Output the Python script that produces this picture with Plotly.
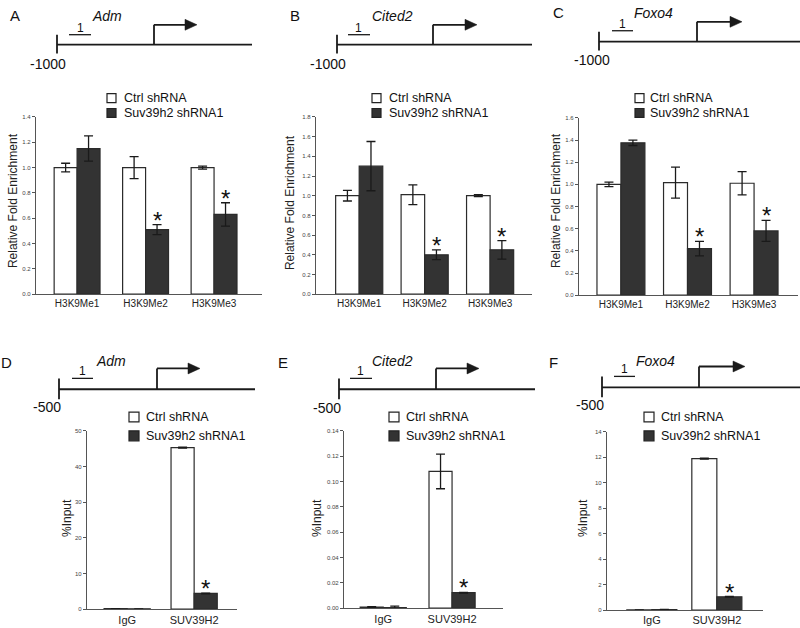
import plotly.graph_objects as go

W, H = 800, 628

# ---------------- data ----------------
histone_marks = ["H3K9Me1", "H3K9Me2", "H3K9Me3"]
chip_targets = ["IgG", "SUV39H2"]
series_names = ["Ctrl shRNA", "Suv39h2 shRNA1"]

# A  Adm  H3K9 methylation (relative fold enrichment)
adm_h3_ctrl = [1.00, 1.00, 1.00]
adm_h3_ctrl_err = [0.034, 0.087, 0.012]
adm_h3_kd = [1.15, 0.51, 0.63]
adm_h3_kd_err = [0.10, 0.04, 0.092]
adm_h3_star = [False, True, True]

# B  Cited2
cited2_h3_ctrl = [1.00, 1.01, 1.00]
cited2_h3_ctrl_err = [0.054, 0.10, 0.01]
cited2_h3_kd = [1.30, 0.40, 0.45]
cited2_h3_kd_err = [0.25, 0.05, 0.093]
cited2_h3_star = [False, True, True]

# C  Foxo4
foxo4_h3_ctrl = [1.00, 1.015, 1.01]
foxo4_h3_ctrl_err = [0.02, 0.14, 0.105]
foxo4_h3_kd = [1.375, 0.42, 0.58]
foxo4_h3_kd_err = [0.024, 0.066, 0.095]
foxo4_h3_star = [False, True, True]

# D  Adm  SUV39H2 ChIP (%Input)
adm_chip_ctrl = [0.15, 45.3]
adm_chip_ctrl_err = [0.0, 0.1]
adm_chip_kd = [0.1, 4.4]
adm_chip_kd_err = [0.0, 0.1]
adm_chip_star = [False, True]

# E  Cited2
cited2_chip_ctrl = [0.0008, 0.108]
cited2_chip_ctrl_err = [0.0003, 0.0137]
cited2_chip_kd = [0.0005, 0.0122]
cited2_chip_kd_err = [0.0011, 0.0003]
cited2_chip_star = [False, True]

# F  Foxo4
foxo4_chip_ctrl = [0.02, 11.9]
foxo4_chip_ctrl_err = [0.0, 0.03]
foxo4_chip_kd = [0.05, 1.05]
foxo4_chip_kd_err = [0.0, 0.02]
foxo4_chip_star = [False, True]

# ---------------- layout geometry (pixels) ----------------
FONT = "Liberation Sans, Arial, sans-serif"
CTRL_FILL, KD_FILL = "white", "#333333"
EDGE = "#2b2b2b"
AXIS = "#555555"

panels = [
    dict(cats=histone_marks, ctrl=adm_h3_ctrl, ce=adm_h3_ctrl_err, kd=adm_h3_kd, ke=adm_h3_kd_err,
         star=adm_h3_star, x0=36, x1=262, top=115, base=294, xr=[-0.6, 2.7], ymax=1.4, dtick=0.2,
         fmt=".1f", gap=0.33, ytitle="Relative Fold Enrichment", tp=(13, 200), tfs=10),
    dict(cats=histone_marks, ctrl=cited2_h3_ctrl, ce=cited2_h3_ctrl_err, kd=cited2_h3_kd, ke=cited2_h3_kd_err,
         star=cited2_h3_star, x0=316, x1=532, top=115, base=294, xr=[-0.66, 2.64], ymax=1.8, dtick=0.2,
         fmt=".1f", gap=0.28, ytitle="Relative Fold Enrichment", tp=(290, 202), tfs=10),
    dict(cats=histone_marks, ctrl=foxo4_h3_ctrl, ce=foxo4_h3_ctrl_err, kd=foxo4_h3_kd, ke=foxo4_h3_kd_err,
         star=foxo4_h3_star, x0=579, x1=798, top=116, base=295, xr=[-0.63, 2.66], ymax=1.6, dtick=0.2,
         fmt=".1f", gap=0.28, ytitle="Relative Fold Enrichment", tp=(556, 200), tfs=10),
    dict(cats=chip_targets, ctrl=adm_chip_ctrl, ce=adm_chip_ctrl_err, kd=adm_chip_kd, ke=adm_chip_kd_err,
         star=adm_chip_star, x0=87, x1=237, top=432, base=612, xr=[-0.6, 1.64], ymax=50, dtick=10,
         fmt="d", gap=0.31, ytitle="%Input", tp=(67, 520), tfs=11),
    dict(cats=chip_targets, ctrl=cited2_chip_ctrl, ce=cited2_chip_ctrl_err, kd=cited2_chip_kd,
         ke=cited2_chip_kd_err, star=cited2_chip_star, x0=344, x1=503, top=432, base=611,
         xr=[-0.57, 1.74], ymax=0.14, dtick=0.02, fmt=".2f", gap=0.33, ytitle="%Input", tp=(317, 520), tfs=11),
    dict(cats=chip_targets, ctrl=foxo4_chip_ctrl, ce=foxo4_chip_ctrl_err, kd=foxo4_chip_kd,
         ke=foxo4_chip_kd_err, star=foxo4_chip_star, x0=607, x1=763, top=433, base=613,
         xr=[-0.69, 1.71], ymax=14, dtick=2, fmt="d", gap=0.23, ytitle="%Input", tp=(583, 520), tfs=11),
]

diagrams = [
    dict(letter="A", lp=(15, 13), gene="Adm", gp=(107, 13), ly=42, lx=(57, 252), tick=(32, 51),
         ax=154, atop=22, tip=197, seg=(69, 91, 32), one=(80, 25), start="-1000", sp=(48, 62)),
    dict(letter="B", lp=(295, 13), gene="Cited2", gp=(392, 13), ly=42, lx=(337, 532), tick=(32, 51),
         ax=433, atop=22, tip=477, seg=(348, 370, 32), one=(358, 25), start="-1000", sp=(328, 62)),
    dict(letter="C", lp=(558, 10), gene="Foxo4", gp=(653, 10), ly=39, lx=(599, 800), tick=(29, 48),
         ax=697, atop=19, tip=742, seg=(612, 633, 28), one=(622, 21), start="-1000", sp=(592, 58)),
    dict(letter="D", lp=(6, 363), gene="Adm", gp=(111, 361), ly=390, lx=(59, 255), tick=(379, 400),
         ax=157, atop=369, tip=200, seg=(72, 93, 379), one=(82, 372), start="-500", sp=(47, 408)),
    dict(letter="E", lp=(283, 363), gene="Cited2", gp=(392, 361), ly=390, lx=(339, 535), tick=(379, 400),
         ax=436, atop=369, tip=479, seg=(350, 372, 379), one=(360, 372), start="-500", sp=(327, 409)),
    dict(letter="F", lp=(553, 363), gene="Foxo4", gp=(655, 361), ly=388, lx=(602, 800), tick=(377, 398),
         ax=699, atop=367, tip=745, seg=(614, 635, 377), one=(624, 370), start="-500", sp=(590, 406)),
]

legends = [
    dict(bx=107, tx=122, y=(96, 111), s=9),
    dict(bx=372, tx=387, y=(96, 111), s=9),
    dict(bx=635, tx=648, y=(96, 111), s=9),
    dict(bx=129, tx=144, y=(418, 437), s=10),
    dict(bx=389, tx=404, y=(418, 437), s=10),
    dict(bx=644, tx=659, y=(418, 437), s=10),
]


def px(x):
    return x / W


def py(y):
    return 1 - y / H


fig = go.Figure()
shapes, annotations = [], []
lay = {}

for i, p in enumerate(panels):
    k = "" if i == 0 else str(i + 1)
    xa, ya = "x" + k, "y" + k
    w = (1 - p["gap"]) / 2
    for vals, errs, fill, name, off in [(p["ctrl"], p["ce"], CTRL_FILL, series_names[0], -w),
                                        (p["kd"], p["ke"], KD_FILL, series_names[1], 0.0)]:
        fig.add_trace(go.Bar(
            x=p["cats"], y=vals, name=name, width=w, offset=off,
            marker=dict(color=fill, line=dict(color=EDGE, width=1.2)),
            error_y=dict(type="data", array=errs, color="#1a1a1a", thickness=1.3, width=4.5),
            xaxis=xa, yaxis=ya, showlegend=False, hoverinfo="skip"))
    for j, s in enumerate(p["star"]):
        if s:
            annotations.append(dict(
                x=j + w / 2, y=p["kd"][j] + p["ke"][j], xref=xa, yref=ya, text="*",
                showarrow=False, xanchor="center", yanchor="bottom", yshift=-11,
                font=dict(family=FONT, size=24, color="#111")))
    annotations.append(dict(
        x=px(p["tp"][0]), y=py(p["tp"][1]), xref="paper", yref="paper", text=p["ytitle"],
        textangle=-90, showarrow=False, xanchor="center", yanchor="middle",
        font=dict(family=FONT, size=12, color="#222")))
    lay["xaxis" + k] = dict(
        domain=[px(p["x0"]), px(p["x1"])], anchor=ya, type="category", range=p["xr"],
        showline=True, linecolor=AXIS, linewidth=1.3, ticks="", showgrid=False, zeroline=False,
        tickfont=dict(family=FONT, size=p["tfs"], color="#222"), fixedrange=True)
    lay["yaxis" + k] = dict(
        domain=[py(p["base"]), py(p["top"])], anchor=xa, range=[0, p["ymax"]], dtick=p["dtick"],
        tick0=0, tickformat=p["fmt"], showline=True, linecolor=AXIS, linewidth=1.3, ticks="outside",
        ticklen=3, tickwidth=1, tickcolor=AXIS, showgrid=False, zeroline=False,
        tickfont=dict(family=FONT, size=6, color="#444"), fixedrange=True)

LW = 1.8
for d in diagrams:
    line = dict(color="#1a1a1a", width=LW)
    shapes.append(dict(type="line", xref="paper", yref="paper", x0=px(d["lx"][0]), x1=px(d["lx"][1]),
                       y0=py(d["ly"]), y1=py(d["ly"]), line=line))
    shapes.append(dict(type="line", xref="paper", yref="paper", x0=px(d["lx"][0]), x1=px(d["lx"][0]),
                       y0=py(d["tick"][0]), y1=py(d["tick"][1]), line=line))
    shapes.append(dict(type="line", xref="paper", yref="paper", x0=px(d["ax"]), x1=px(d["ax"]),
                       y0=py(d["ly"]), y1=py(d["atop"]), line=line))
    shapes.append(dict(type="line", xref="paper", yref="paper", x0=px(d["ax"]), x1=px(d["tip"] - 10),
                       y0=py(d["atop"]), y1=py(d["atop"]), line=line))
    t, a = d["tip"], d["atop"]
    shapes.append(dict(type="path", xref="paper", yref="paper",
                       path=f"M {px(t)} {py(a)} L {px(t - 12)} {py(a - 5.5)} L {px(t - 12)} {py(a + 5.5)} Z",
                       fillcolor="#1a1a1a", line=dict(color="#1a1a1a", width=0.5)))
    s0, s1, sy = d["seg"]
    shapes.append(dict(type="line", xref="paper", yref="paper", x0=px(s0), x1=px(s1),
                       y0=py(sy), y1=py(sy), line=dict(color="#1a1a1a", width=1.3)))
    annotations.append(dict(x=px(d["one"][0]), y=py(d["one"][1]), xref="paper", yref="paper", text="1",
                            showarrow=False, xanchor="center", yanchor="middle",
                            font=dict(family=FONT, size=12, color="#111")))
    annotations.append(dict(x=px(d["lp"][0]), y=py(d["lp"][1]), xref="paper", yref="paper",
                            text=d["letter"], showarrow=False, xanchor="center", yanchor="middle",
                            font=dict(family=FONT, size=15, color="#111")))
    annotations.append(dict(x=px(d["gp"][0]), y=py(d["gp"][1]), xref="paper", yref="paper",
                            text="<i>" + d["gene"] + "</i>", showarrow=False, xanchor="center",
                            yanchor="middle", font=dict(family=FONT, size=14, color="#111")))
    annotations.append(dict(x=px(d["sp"][0]), y=py(d["sp"][1]), xref="paper", yref="paper",
                            text=d["start"], showarrow=False, xanchor="center", yanchor="middle",
                            font=dict(family=FONT, size=14, color="#111")))

for lg in legends:
    s = lg["s"]
    for yy, fill, name in zip(lg["y"], [CTRL_FILL, KD_FILL], series_names):
        shapes.append(dict(type="rect", xref="paper", yref="paper", x0=px(lg["bx"]), x1=px(lg["bx"] + s),
                           y0=py(yy - s / 2), y1=py(yy + s / 2), fillcolor=fill,
                           line=dict(color="#222", width=1.2)))
        annotations.append(dict(x=px(lg["tx"]), y=py(yy), xref="paper", yref="paper", text=name,
                                showarrow=False, xanchor="left", yanchor="middle",
                                font=dict(family=FONT, size=12.5, color="#111")))

fig.update_layout(
    width=W, height=H, margin=dict(l=0, r=0, t=0, b=0), paper_bgcolor="white", plot_bgcolor="white",
    barmode="overlay", showlegend=False, shapes=shapes, annotations=annotations,
    font=dict(family=FONT, color="#111"), **lay)

fig.write_html("out.html", config={"displayModeBar": False},
               post_script="document.body.style.margin='0';document.body.style.overflow='hidden';")
